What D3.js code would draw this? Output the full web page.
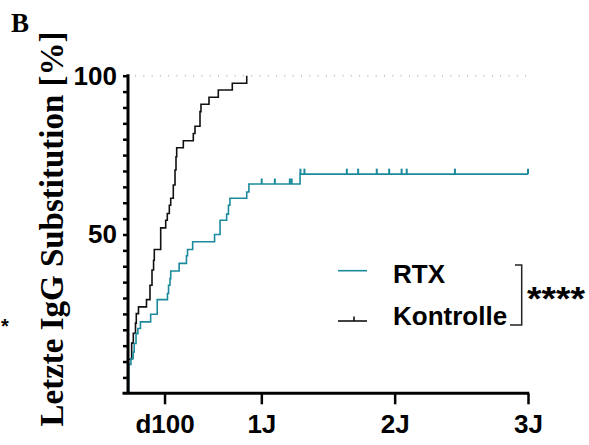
<!DOCTYPE html>
<html>
<head>
<meta charset="utf-8">
<script src="https://cdn.jsdelivr.net/npm/d3@7"></script>
<style>
  html, body { margin: 0; padding: 0; background: #fff; }
  svg { display: block; }
</style>
</head>
<body>
<svg id="chart" width="589" height="445"></svg>
<script>
// ---- data (days since start, cumulative %) ----
const rtxDays = [0, 2, 8, 14, 17, 22, 27, 34, 62, 80, 108, 111, 115, 117, 140, 160, 163, 177, 237, 252, 270, 275, 279, 325, 331, 471, 1095];
const rtxPct  = [0, 9.1, 10.9, 13.0, 15.7, 18.8, 20.4, 22.5, 24.9, 29.5, 31.4, 34.0, 36.1, 38.5, 40.9, 43.3, 45.3, 47.7, 50.0, 54.5, 56.4, 59.2, 61.4, 63.4, 65.9, 69.0, 69.0];
const rtxCensorDays = [366, 402, 443, 448, 472, 483, 599, 630, 681, 715, 749, 763, 895, 1095];

const ctlDays = [0, 1, 10, 14.5, 20.5, 22.7, 28.7, 50.6, 60.2, 65.7, 70, 72, 89.5, 103.2, 107.6, 113.1, 116.9, 124, 128.7, 131.4, 133.3, 151.4, 178.8, 183.4, 197.1, 199.8, 221.7, 247.2, 285.5, 325];
const ctlPct  = [0, 10.7, 15.8, 18.9, 22.1, 25.1, 27.2, 29.5, 34.0, 38.8, 41.9, 45.3, 52.1, 54.5, 56.6, 59.2, 61.4, 65.6, 70.3, 74.5, 77.3, 79.5, 81.8, 84.1, 88.7, 91.0, 93.2, 95.5, 97.6, 100];

const xTickValues = [100, 365, 730, 1095];
const xTickLabels = ["d100", "1J", "2J", "3J"];
const yTickValues = d3.range(5, 101, 5);
const yLabelValues = [50, 100];

const seriesNames = ["RTX", "Kontrolle"];
const colors = { RTX: "#1a8a9c", Kontrolle: "#111111" };

// ---- layout ----
const svg = d3.select("#chart");
const x = d3.scaleLinear().domain([0, 1095]).range([128, 528]);
const y = d3.scaleLinear().domain([0, 100]).range([393.3, 75.7]);

const sansBold = "'Liberation Sans', Arial, Helvetica, sans-serif";
const serif = "'Liberation Serif', 'Times New Roman', serif";

// dotted 100% reference line
svg.append("line")
  .attr("x1", x(0) + 7).attr("x2", x(1095))
  .attr("y1", y(100)).attr("y2", y(100))
  .attr("stroke", "#c4c4c4").attr("stroke-width", 2)
  .attr("stroke-dasharray", "1,7.3");

// curves
const line = d3.line().x(d => x(d[0])).y(d => y(d[1])).curve(d3.curveStepAfter);
svg.append("path")
  .datum(ctlDays.map((d, i) => [d, ctlPct[i]]))
  .attr("d", line).attr("fill", "none")
  .attr("stroke", colors.Kontrolle).attr("stroke-width", 1.6);
svg.append("path")
  .datum(rtxDays.map((d, i) => [d, rtxPct[i]]))
  .attr("d", line).attr("fill", "none")
  .attr("stroke", colors.RTX).attr("stroke-width", 1.6);

// censor ticks
function stepValue(days, pct, t) {
  let v = 0;
  for (let i = 0; i < days.length; i++) if (days[i] <= t) v = pct[i];
  return v;
}
svg.append("g").selectAll("line")
  .data(rtxCensorDays)
  .join("line")
  .attr("x1", d => x(d)).attr("x2", d => x(d))
  .attr("y1", d => y(stepValue(rtxDays, rtxPct, d)))
  .attr("y2", d => y(stepValue(rtxDays, rtxPct, d)) - 5.5)
  .attr("stroke", colors.RTX).attr("stroke-width", 2);

// y axis
const yAxis = d3.axisLeft(y).tickValues(yTickValues).tickSize(5).tickPadding(6)
  .tickFormat(d => yLabelValues.includes(d) ? String(d) : "");
const gy = svg.append("g").attr("transform", `translate(${x(0)},0)`).call(yAxis);
gy.select(".domain").remove();
gy.selectAll(".tick line").attr("stroke", "#000").attr("stroke-width", 2.5);
gy.selectAll(".tick text").attr("font-family", sansBold).attr("font-weight", "bold")
  .attr("font-size", 26).attr("fill", "#000");
svg.append("line").attr("x1", x(0)).attr("x2", x(0))
  .attr("y1", y(100) - 1.5).attr("y2", y(0))
  .attr("stroke", "#000").attr("stroke-width", 3);

// x axis
const xAxis = d3.axisBottom(x).tickValues(xTickValues).tickSize(11).tickPadding(10)
  .tickFormat((d, i) => xTickLabels[i]);
const gx = svg.append("g").attr("transform", `translate(0,${y(0)})`).call(xAxis);
gx.select(".domain").remove();
gx.selectAll(".tick line").attr("stroke", "#000").attr("stroke-width", 2.5);
gx.selectAll(".tick text").attr("font-family", sansBold).attr("font-weight", "bold")
  .attr("font-size", 26).attr("fill", "#000").attr("dy", 0).attr("y", 40);
svg.append("line").attr("x1", x(0) - 5.5).attr("x2", x(1095) + 1.2)
  .attr("y1", y(0)).attr("y2", y(0))
  .attr("stroke", "#000").attr("stroke-width", 3);

// y title
svg.append("text")
  .attr("transform", "translate(63,229) rotate(-90)")
  .attr("text-anchor", "middle")
  .attr("font-family", serif).attr("font-weight", "bold").attr("font-size", 33)
  .attr("textLength", 395).attr("lengthAdjust", "spacingAndGlyphs")
  .text("Letzte IgG Substitution [%]");

// panel letter
svg.append("text").attr("x", 11).attr("y", 31.7)
  .attr("font-family", serif).attr("font-weight", "bold").attr("font-size", 27)
  .text("B");

// stray mark at left edge
svg.append("text").attr("x", 1).attr("y", 333)
  .attr("font-family", sansBold).attr("font-weight", "bold").attr("font-size", 20)
  .text("*");

// legend
const legendY = [270.7, 321];
const legendTextY = [283.3, 324.5];
seriesNames.forEach((name, i) => {
  svg.append("line").attr("x1", 338).attr("x2", 367)
    .attr("y1", legendY[i]).attr("y2", legendY[i])
    .attr("stroke", colors[name]).attr("stroke-width", 1.6);
  if (name === "Kontrolle") {
    svg.append("line").attr("x1", 354).attr("x2", 354)
      .attr("y1", legendY[i]).attr("y2", legendY[i] - 4.5)
      .attr("stroke", colors[name]).attr("stroke-width", 1.6);
  }
  svg.append("text").attr("x", 393).attr("y", legendTextY[i])
    .attr("font-family", sansBold).attr("font-weight", "bold").attr("font-size", 26)
    .attr("fill", "#000").text(name);
});

// significance bracket
svg.append("path")
  .attr("d", `M515,265 H521.7 V325 H510`)
  .attr("fill", "none").attr("stroke", "#222").attr("stroke-width", 1.5);
svg.append("text").attr("x", 527).attr("y", 310)
  .attr("font-family", sansBold).attr("font-weight", "bold").attr("font-size", 34)
  .attr("textLength", 58).attr("lengthAdjust", "spacingAndGlyphs")
  .text("****");
</script>
</body>
</html>
